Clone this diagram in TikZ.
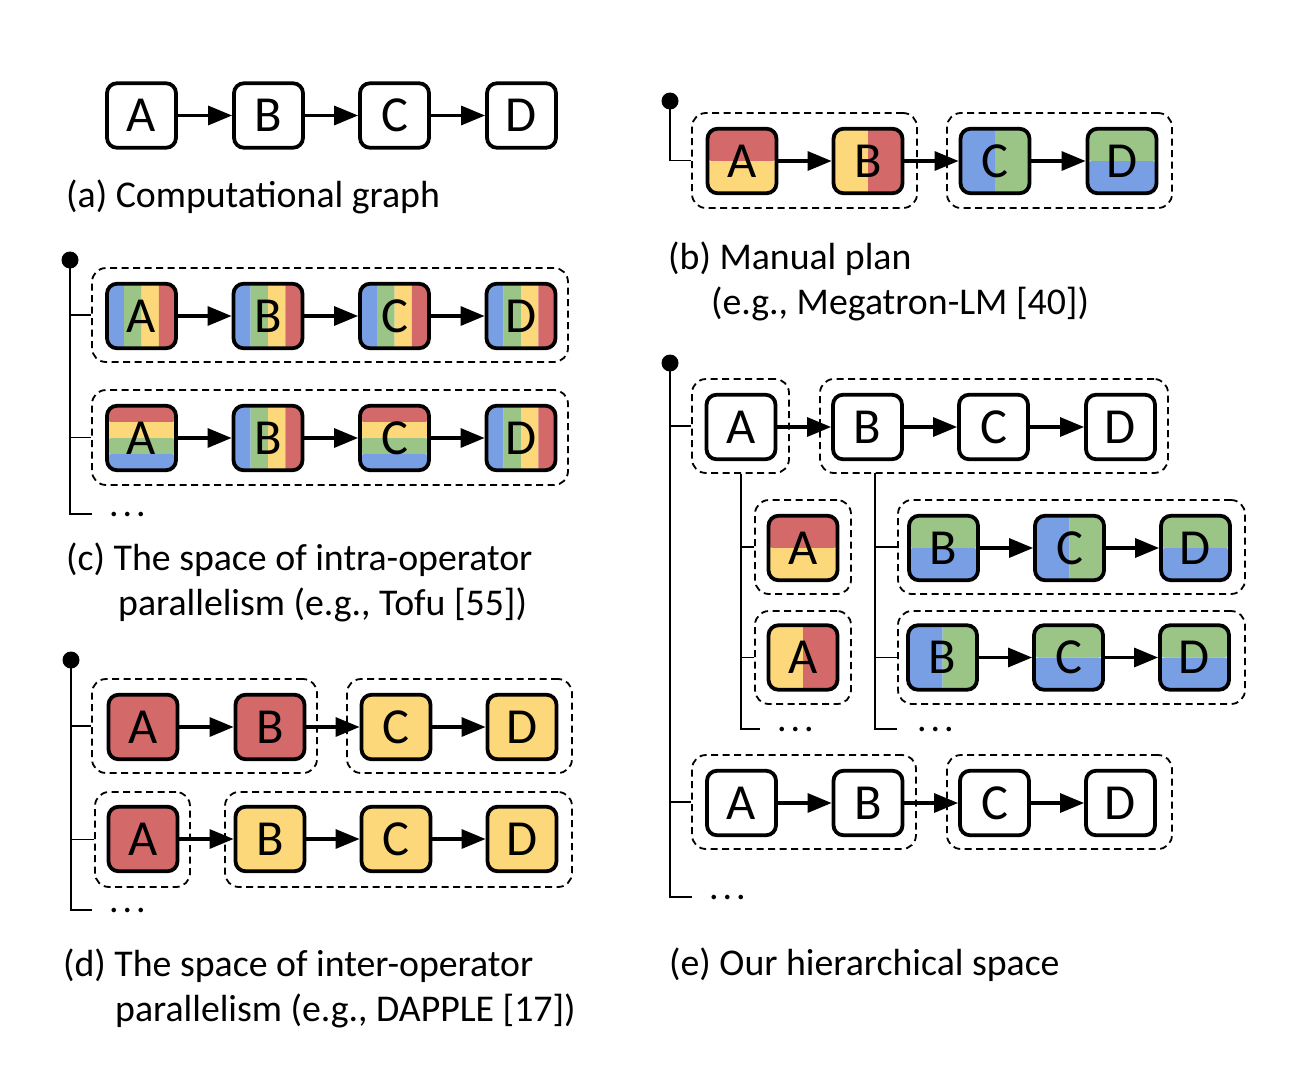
\documentclass[tikz,border=0pt]{standalone}
\usepackage{fontspec}
\setmainfont{Carlito}
\usetikzlibrary{arrows.meta,fit,calc}
\definecolor{cred}{HTML}{D4696A}
\definecolor{cyel}{HTML}{FCD87A}
\definecolor{cgrn}{HTML}{9BC487}
\definecolor{cblu}{HTML}{789FE3}
\newcommand{\capfont}{\fontsize{37.8pt}{44pt}\selectfont}
\newcommand{\boxfont}{\fontsize{50.5pt}{55pt}\selectfont}
\newcommand{\mydots}{.\kern4pt.\kern4pt.}
\newcommand{\ppc}{path picture bounding box.center}
\tikzset{
  opbox/.style={draw, line width=3.8pt, rounded corners=10pt, minimum width=69pt, minimum height=64.5pt, inner sep=0pt, font=\boxfont, fill=white},
  grp/.style={draw, dashed, line width=1.8pt, dash pattern=on 7pt off 4.5pt, rounded corners=14pt, inner sep=0pt},
  link/.style={line width=3.2pt, -{Triangle[length=24pt,width=19pt]}},
  treeln/.style={line width=2.4pt},
  tickln/.style={line width=1.5pt},
  rootdot/.style={circle, fill=black, inner sep=0pt, minimum size=17pt},
  captxt/.style={anchor=base west, font=\capfont, inner sep=0pt},
  dotsn/.style={anchor=base west, font=\capfont, inner sep=0pt},
  sred/.style={fill=cred},
  syel/.style={fill=cyel},
  lrsplit/.style 2 args={path picture={
    \fill[#1] ([xshift=-40pt,yshift=-40pt]\ppc) rectangle ([yshift=40pt]\ppc);
    \fill[#2] ([yshift=-40pt]\ppc) rectangle ([xshift=40pt,yshift=40pt]\ppc);}},
  tbsplit/.style 2 args={path picture={
    \fill[#1] ([xshift=-40pt,yshift=40pt]\ppc) rectangle ([xshift=40pt]\ppc);
    \fill[#2] ([xshift=-40pt]\ppc) rectangle ([xshift=40pt,yshift=-40pt]\ppc);}},
  vfour/.style={path picture={
    \fill[cblu] ([xshift=-40pt,yshift=-40pt]\ppc) rectangle ([xshift=-17.3pt,yshift=40pt]\ppc);
    \fill[cgrn] ([xshift=-17.3pt,yshift=-40pt]\ppc) rectangle ([yshift=40pt]\ppc);
    \fill[cyel] ([yshift=-40pt]\ppc) rectangle ([xshift=17.3pt,yshift=40pt]\ppc);
    \fill[cred] ([xshift=17.3pt,yshift=-40pt]\ppc) rectangle ([xshift=40pt,yshift=40pt]\ppc);}},
  hfour/.style={path picture={
    \fill[cred] ([xshift=-40pt,yshift=40pt]\ppc) rectangle ([xshift=40pt,yshift=16pt]\ppc);
    \fill[cyel] ([xshift=-40pt,yshift=16pt]\ppc) rectangle ([xshift=40pt]\ppc);
    \fill[cgrn] ([xshift=-40pt]\ppc) rectangle ([xshift=40pt,yshift=-16pt]\ppc);
    \fill[cblu] ([xshift=-40pt,yshift=-16pt]\ppc) rectangle ([xshift=40pt,yshift=-40pt]\ppc);}},
}
\begin{document}
\begin{tikzpicture}[x=1pt,y=-1pt]
\useasboundingbox[fill=white] (0,0) rectangle (1316,1076);

%% (a)
\node[opbox] (aA) at (141.5,115.5) {A};
\node[opbox] (aB) at (268.5,115.5) {B};
\node[opbox] (aC) at (394.5,115.5) {C};
\node[opbox] (aD) at (521.5,115.5) {D};
\draw[link] (aA) -- (aB);
\draw[link] (aB) -- (aC);
\draw[link] (aC) -- (aD);
\node[captxt] (capa) at (66,207) {(a) Computational graph};

%% (b)
\node[grp, fit={(692,113)(917,208)}] (gb1) {};
\node[grp, fit={(947,113)(1172,208)}] (gb2) {};
\node[opbox, tbsplit={cred}{cyel}] (bA) at (742,161) {A};
\node[opbox, lrsplit={cyel}{cred}] (bB) at (868,161) {B};
\node[opbox, lrsplit={cblu}{cgrn}] (bC) at (995,161) {C};
\node[opbox, tbsplit={cgrn}{cblu}] (bD) at (1122,161) {D};
\draw[link] (bA) -- (bB);
\draw[link] (bB) -- (bC);
\draw[link] (bC) -- (bD);
\node[rootdot] (bdot) at (670,101) {};
\draw[tickln] (bdot.center) |- (gb1.west);
\node[captxt] (capb1) at (668,269) {(b) Manual plan};
\node[captxt] (capb2) at (711,314) {(e.g., Megatron-LM [40])};

%% (c)
\node[grp, fit={(92,268)(568,362)}] (gc1) {};
\node[grp, fit={(92,390)(568,485)}] (gc2) {};
\node[opbox, vfour] (c1A) at (141.5,316) {A};
\node[opbox, vfour] (c1B) at (268,316) {B};
\node[opbox, vfour] (c1C) at (394.5,316) {C};
\node[opbox, vfour] (c1D) at (521,316) {D};
\node[opbox, hfour] (c2A) at (141.5,438) {A};
\node[opbox, vfour] (c2B) at (268,438) {B};
\node[opbox, hfour] (c2C) at (394.5,438) {C};
\node[opbox, vfour] (c2D) at (521,438) {D};
\foreach \r in {1,2}{
  \draw[link] (c\r A) -- (c\r B);
  \draw[link] (c\r B) -- (c\r C);
  \draw[link] (c\r C) -- (c\r D);
}
\node[rootdot] (cdot) at (70,260) {};
\coordinate (cend) at (92,514);
\draw[treeln] (cdot.center) |- (cend);
\draw[tickln] (cdot |- gc1.west) -- (gc1.west);
\draw[tickln] (cdot |- gc2.west) -- (gc2.west);
\node[dotsn] (cdots) at (109,516) {\mydots};
\node[captxt] (capc1) at (66,570) {(c) The space of intra-operator};
\node[captxt] (capc2) at (118,615) {parallelism (e.g., Tofu [55])};

%% (d)
\node[grp, fit={(92,679)(317,773)}] (gd1) {};
\node[grp, fit={(347,679)(572,773)}] (gd2) {};
\node[grp, fit={(95,792)(190,887)}] (gd3) {};
\node[grp, fit={(225,792)(572,887)}] (gd4) {};
\node[opbox, sred] (d1A) at (143,727) {A};
\node[opbox, sred] (d1B) at (270,727) {B};
\node[opbox, syel] (d1C) at (396,727) {C};
\node[opbox, syel] (d1D) at (522,727) {D};
\node[opbox, sred] (d2A) at (143,839) {A};
\node[opbox, syel] (d2B) at (270,839) {B};
\node[opbox, syel] (d2C) at (396,839) {C};
\node[opbox, syel] (d2D) at (522,839) {D};
\foreach \r in {1,2}{
  \draw[link] (d\r A) -- (d\r B);
  \draw[link] (d\r B) -- (d\r C);
  \draw[link] (d\r C) -- (d\r D);
}
\node[rootdot] (ddot) at (71,660) {};
\coordinate (dend) at (92,910);
\draw[treeln] (ddot.center) |- (dend);
\draw[tickln] (ddot |- gd1.west) -- (gd1.west);
\draw[tickln] (ddot |- gd3.west) -- (gd3.west);
\node[dotsn] (ddots) at (109,912) {\mydots};
\node[captxt] (capd1) at (63,976) {(d) The space of inter-operator};
\node[captxt] (capd2) at (115,1021) {parallelism (e.g., DAPPLE [17])};

%% (e)
\node[grp, fit={(692,379)(789,473)}] (ge1) {};
\node[grp, fit={(820,379)(1168,473)}] (ge2) {};
\node[opbox] (e1A) at (741,427) {A};
\node[opbox] (e1B) at (867.5,427) {B};
\node[opbox] (e1C) at (993.5,427) {C};
\node[opbox] (e1D) at (1120.5,427) {D};
\draw[link] (e1A) -- (e1B);
\draw[link] (e1B) -- (e1C);
\draw[link] (e1C) -- (e1D);
% sub-tree of A
\node[grp, fit={(755,500)(851,594)}] (gsa1) {};
\node[grp, fit={(755,611)(851,704)}] (gsa2) {};
\node[opbox, tbsplit={cred}{cyel}] (sa1) at (803,548) {A};
\node[opbox, lrsplit={cyel}{cred}] (sa2) at (803,657.5) {A};
\coordinate (saend) at (760,729);
\draw[treeln] (ge1.south -| e1A) |- (saend);
\draw[tickln] (e1A |- gsa1.west) -- (gsa1.west);
\draw[tickln] (e1A |- gsa2.west) -- (gsa2.west);
\node[dotsn] (sadots) at (777,731) {\mydots};
% sub-tree of B
\node[grp, fit={(898,500)(1245,594)}] (gsb1) {};
\node[grp, fit={(898,611)(1245,704)}] (gsb2) {};
\node[opbox, tbsplit={cgrn}{cblu}] (sb1B) at (943.5,548) {B};
\node[opbox, lrsplit={cblu}{cgrn}] (sb1C) at (1069.5,548) {C};
\node[opbox, tbsplit={cgrn}{cblu}] (sb1D) at (1195.5,548) {D};
\node[opbox, lrsplit={cblu}{cgrn}] (sb2B) at (942.5,657.5) {B};
\node[opbox, tbsplit={cgrn}{cblu}] (sb2C) at (1068.5,657.5) {C};
\node[opbox, tbsplit={cgrn}{cblu}] (sb2D) at (1194.5,657.5) {D};
\foreach \r in {1,2}{
  \draw[link] (sb\r B) -- (sb\r C);
  \draw[link] (sb\r C) -- (sb\r D);
}
\coordinate (sbtop) at (875,473);
\coordinate (sbend) at (897,729);
\draw[treeln] (sbtop) |- (sbend);
\draw[tickln] (sbtop |- gsb1.west) -- (gsb1.west);
\draw[tickln] (sbtop |- gsb2.west) -- (gsb2.west);
\node[dotsn] (sbdots) at (917,731) {\mydots};
% bottom row
\node[grp, fit={(692,755)(916,849)}] (ge3) {};
\node[grp, fit={(947,755)(1172,849)}] (ge4) {};
\node[opbox] (e2A) at (741.5,803) {A};
\node[opbox] (e2B) at (868,803) {B};
\node[opbox] (e2C) at (994.5,803) {C};
\node[opbox] (e2D) at (1120.5,803) {D};
\draw[link] (e2A) -- (e2B);
\draw[link] (e2B) -- (e2C);
\draw[link] (e2C) -- (e2D);
\node[rootdot] (edot) at (670,363) {};
\coordinate (eend) at (692,897);
\draw[treeln] (edot.center) |- (eend);
\draw[tickln] (edot |- ge1.west) -- (ge1.west);
\draw[tickln] (edot |- ge3.west) -- (ge3.west);
\node[dotsn] (edots) at (709,899) {\mydots};
\node[captxt] (cape) at (669,975) {(e) Our hierarchical space};
\end{tikzpicture}
\end{document}
